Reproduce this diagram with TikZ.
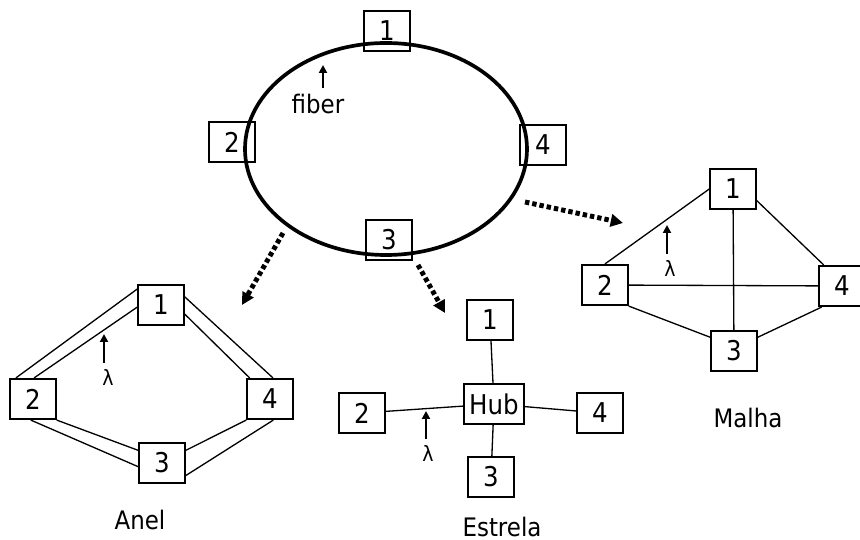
\documentclass[tikz,border=0pt]{standalone}
\usepackage{fontspec}
\setmainfont{DejaVu Sans}[FakeStretch=0.9]
\usetikzlibrary{arrows.meta}

\begin{document}
\begin{tikzpicture}[x=0.02cm, y=-0.02cm,
  every node/.style={font=\fontsize{14.5}{17}\selectfont},
  nd/.style={draw, line width=1pt, minimum width=26pt, minimum height=23pt, inner sep=0pt, font=\fontsize{15.5}{18}\selectfont},
  hubbox/.style={nd, inner xsep=2.8pt},
  link/.style={line width=0.75pt},
  fiberline/.style={line width=2.1pt},
  lam/.style={font=\fontsize{12}{13}\selectfont},
  pointer/.style={line width=1.2pt, -{Triangle[length=4.5pt, width=4.5pt]}},
  zoomarrow/.style={line width=2.8pt, dash pattern=on 2.5pt off 1.7pt, -{Triangle[length=7pt, width=7pt]}}]
\useasboundingbox (0,0) rectangle (860,540);

\node[nd] (r1) at (387,31) {1};
\node[nd] (r2) at (232,142) {2};
\node[nd] (r3) at (389,240) {3};
\node[nd] (r4) at (543,145) {4};
\draw[fiberline] (386,149) ellipse [x radius=141, y radius=106];
\node (fib) at (318,104) {fiber};
\coordinate (fibtip) at (323,65);
\draw[pointer] (fib.north -| fibtip) -- (fibtip);

\coordinate (z1s) at (283,233);
\coordinate (z1e) at (242,305);
\coordinate (z2s) at (418,265);
\coordinate (z2e) at (445,313);
\coordinate (z3s) at (525,202);
\coordinate (z3e) at (623,223);
\draw[zoomarrow] (z1s) -- (z1e);
\draw[zoomarrow] (z2s) -- (z2e);
\draw[zoomarrow] (z3s) -- (z3e);

\node[nd] (a1) at (161,305) {1};
\node[nd] (a2) at (33,399) {2};
\node[nd] (a3) at (162,463) {3};
\node[nd] (a4) at (270,399) {4};
\draw[link] (a1.146) -- (a2.129);
\draw[link] (a1.185) -- (a2.87);
\draw[link] (a1.19) -- (a4.82);
\draw[link] (a1.-21) -- (a4.134);
\draw[link] (a2.-96) -- (a3.189);
\draw[link] (a2.south east) -- (a3.152);
\draw[link] (a3.28) -- (a4.south west);
\draw[link] (a3.-28) -- (a4.-81);
\node[lam] (lamA) at (108,377) {λ};
\coordinate (lamAtip) at (104,334);
\draw[pointer] (lamA.north -| lamAtip) -- (lamAtip);
\node (anel) at (140,520) {Anel};

\node[hubbox] (hub) at (494,404) {Hub};
\node[nd] (s1) at (490,320) {1};
\node[nd] (s2) at (362,413) {2};
\node[nd] (s3) at (491,477) {3};
\node[nd] (s4) at (600,413) {4};
\draw[link] (hub) -- (s1);
\draw[link] (hub) -- (s2);
\draw[link] (hub) -- (s3);
\draw[link] (hub) -- (s4);
\node[lam] (lamS) at (428,453) {λ};
\coordinate (lamStip) at (426,411);
\draw[pointer] (lamS.north -| lamStip) -- (lamStip);
\node (estrela) at (502,527) {Estrela};

\node[nd] (m1) at (733,189) {1};
\node[nd] (m2) at (605,285) {2};
\node[nd] (m3) at (734,351) {3};
\node[nd] (m4) at (842,286) {4};
\draw[link] (m1.west) -- (m2.north);
\draw[link] (m1.-26) -- (m4.131);
\draw[link] (m1) -- (m3);
\draw[link] (m2) -- (m4);
\draw[link] (m2.south east) -- (m3.150);
\draw[link] (m3.30) -- (m4.-134);
\node[lam] (lamM) at (670,268) {λ};
\coordinate (lamMtip) at (667,225);
\draw[pointer] (lamM.north -| lamMtip) -- (lamMtip);
\node (malha) at (748,418) {Malha};
\end{tikzpicture}
\end{document}
